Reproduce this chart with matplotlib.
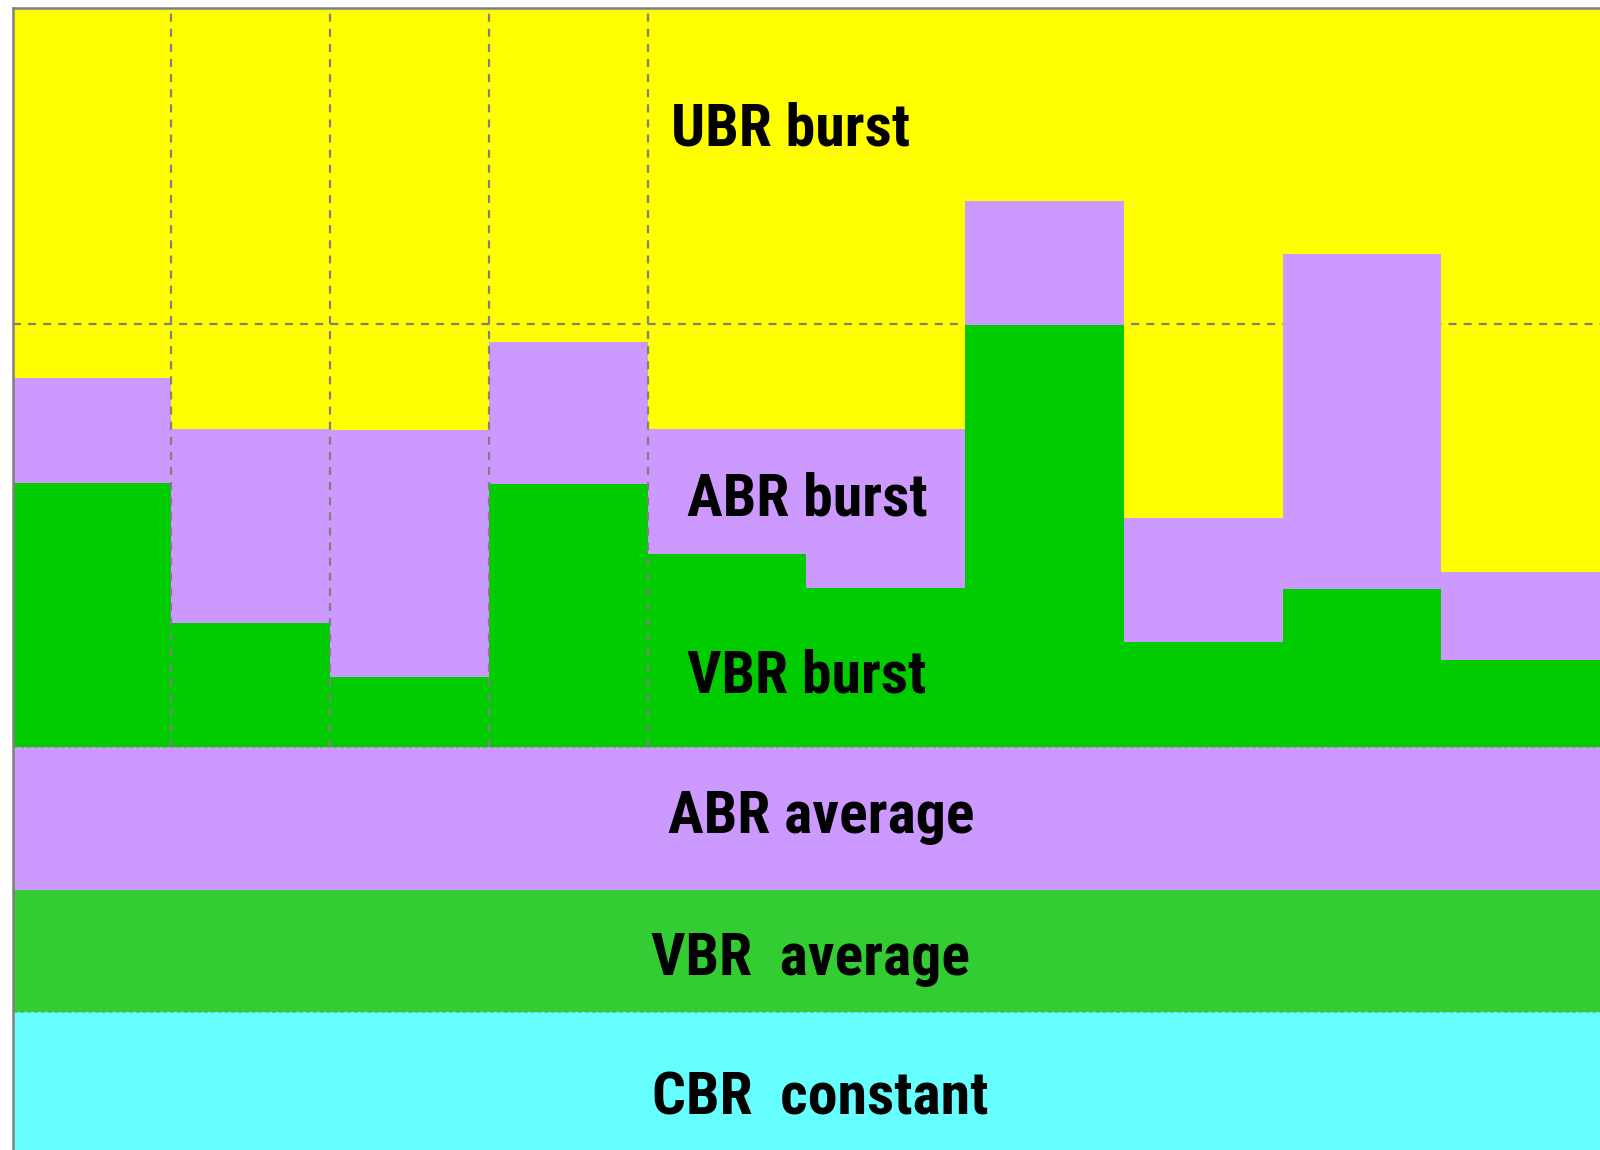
import matplotlib
matplotlib.use("Agg")
import matplotlib.pyplot as plt
from matplotlib import font_manager
import numpy as np

# ---- data (capacity scale 0-100) ----
slots = list(range(10))
cbr_constant = 12.1
vbr_average = 10.7
abr_average = 12.5
vbr_burst = [23.1, 10.8, 6.1, 23.0, 16.9, 13.9, 36.9, 9.2, 13.8, 7.6]
abr_burst = [9.2, 17.0, 21.6, 12.4, 10.9, 13.9, 10.9, 10.8, 29.3, 7.7]
capacity = 100.0
ref_level = 72.3
grid_slots = [1, 2, 3, 4]

labels = ["UBR burst", "ABR burst", "VBR burst", "ABR average", "VBR  average", "CBR  constant"]
label_x = [4.15, 4.25, 4.25, 4.13, 4.02, 4.03]
label_y = [87.96, 55.52, 40.06, 27.72, 15.32, 3.11]

col_cbr = "#66FFFF"
col_vavg = "#33CC33"
col_aavg = "#CC99FF"
col_vb = "#00CC00"
col_ab = "#CC99FF"
col_ubr = "#FFFF00"
grey = "#808080"

# pick a narrow/condensed bold sans if one is installed
fonts = font_manager.fontManager.ttflist
names = {f.name for f in fonts}
family, stretch, fsize = "Liberation Sans", "normal", 35
preferred = ["Liberation Sans Narrow", "Arial Narrow", "Roboto Condensed",
             "Noto Sans Condensed", "Open Sans Condensed", "DejaVu Sans Condensed"]
found = False
for p in preferred:
    if p in names:
        family, stretch, fsize = p, "normal", 43
        found = True
        break
if not found:
    cands = [f for f in fonts
             if f.stretch in ("condensed", "semi-condensed", "extra-condensed", 62.5, 75, 87.5)
             and ("Sans" in f.name or "Roboto" in f.name or "Lato" in f.name or "Inter" in f.name)
             and "CJK" not in f.name and "Mono" not in f.name]
    if cands:
        cands.sort(key=lambda f: (0 if f.stretch == "condensed" else 1,
                                  0 if str(f.weight) in ("bold", "700") else 1))
        family, stretch, fsize = cands[0].name, cands[0].stretch, 43

fig = plt.figure(figsize=(16, 11.5), dpi=100)
W, H = 1600, 1150
left_px, top_px = 12.5, 7.5
ax = fig.add_axes([left_px / W, 0, (W - left_px) / W, (H - top_px) / H])
ax.set_xlim(0, 10)
ax.set_ylim(0, capacity)

x = np.array(slots)
base_avg = cbr_constant + vbr_average + abr_average
vb = np.array(vbr_burst)
ab = np.array(abr_burst)
ubr = capacity - (base_avg + vb + ab)

# constant / average bands
ax.bar(0, cbr_constant, width=10, align="edge", color=col_cbr, linewidth=0, zorder=2)
ax.bar(0, vbr_average, width=10, bottom=cbr_constant, align="edge", color=col_vavg, linewidth=0, zorder=2)
ax.bar(0, abr_average, width=10, bottom=cbr_constant + vbr_average, align="edge", color=col_aavg, linewidth=0, zorder=2)

# bursts
ax.bar(x, ubr, width=1, bottom=base_avg + vb + ab, align="edge", color=col_ubr, linewidth=0, zorder=1)
ax.bar(x, vb, width=1, bottom=base_avg, align="edge", color=col_vb, linewidth=0, zorder=2)
ax.bar(x, ab, width=1, bottom=base_avg + vb, align="edge", color=col_ab, linewidth=0, zorder=2)

dash = (0, (3.6, 3.2))
ax.axhline(ref_level, color=grey, lw=1.6, linestyle=dash, zorder=1.5)
ax.vlines(grid_slots, base_avg, capacity, colors=grey, lw=1.6, linestyles=[dash], zorder=3)
ax.axhline(base_avg, color=grey, lw=0.7, linestyle=(0, (4, 3)), alpha=0.6, zorder=3)
ax.axhline(cbr_constant, color=grey, lw=0.7, linestyle=(0, (4, 3)), alpha=0.6, zorder=3)

for t, tx, ty in zip(labels, label_x, label_y):
    ax.text(tx, ty, t, ha="left", va="baseline", fontsize=fsize, fontweight="bold",
            fontstretch=stretch, family=[family, "DejaVu Sans"], color="black", zorder=5)

ax.set_xticks([])
ax.set_yticks([])
for s in ["right", "bottom"]:
    ax.spines[s].set_visible(False)
for s in ["left", "top"]:
    ax.spines[s].set_color(grey)
    ax.spines[s].set_linewidth(1.8)
    ax.spines[s].set_zorder(6)

fig.savefig("out.png", dpi=100)
